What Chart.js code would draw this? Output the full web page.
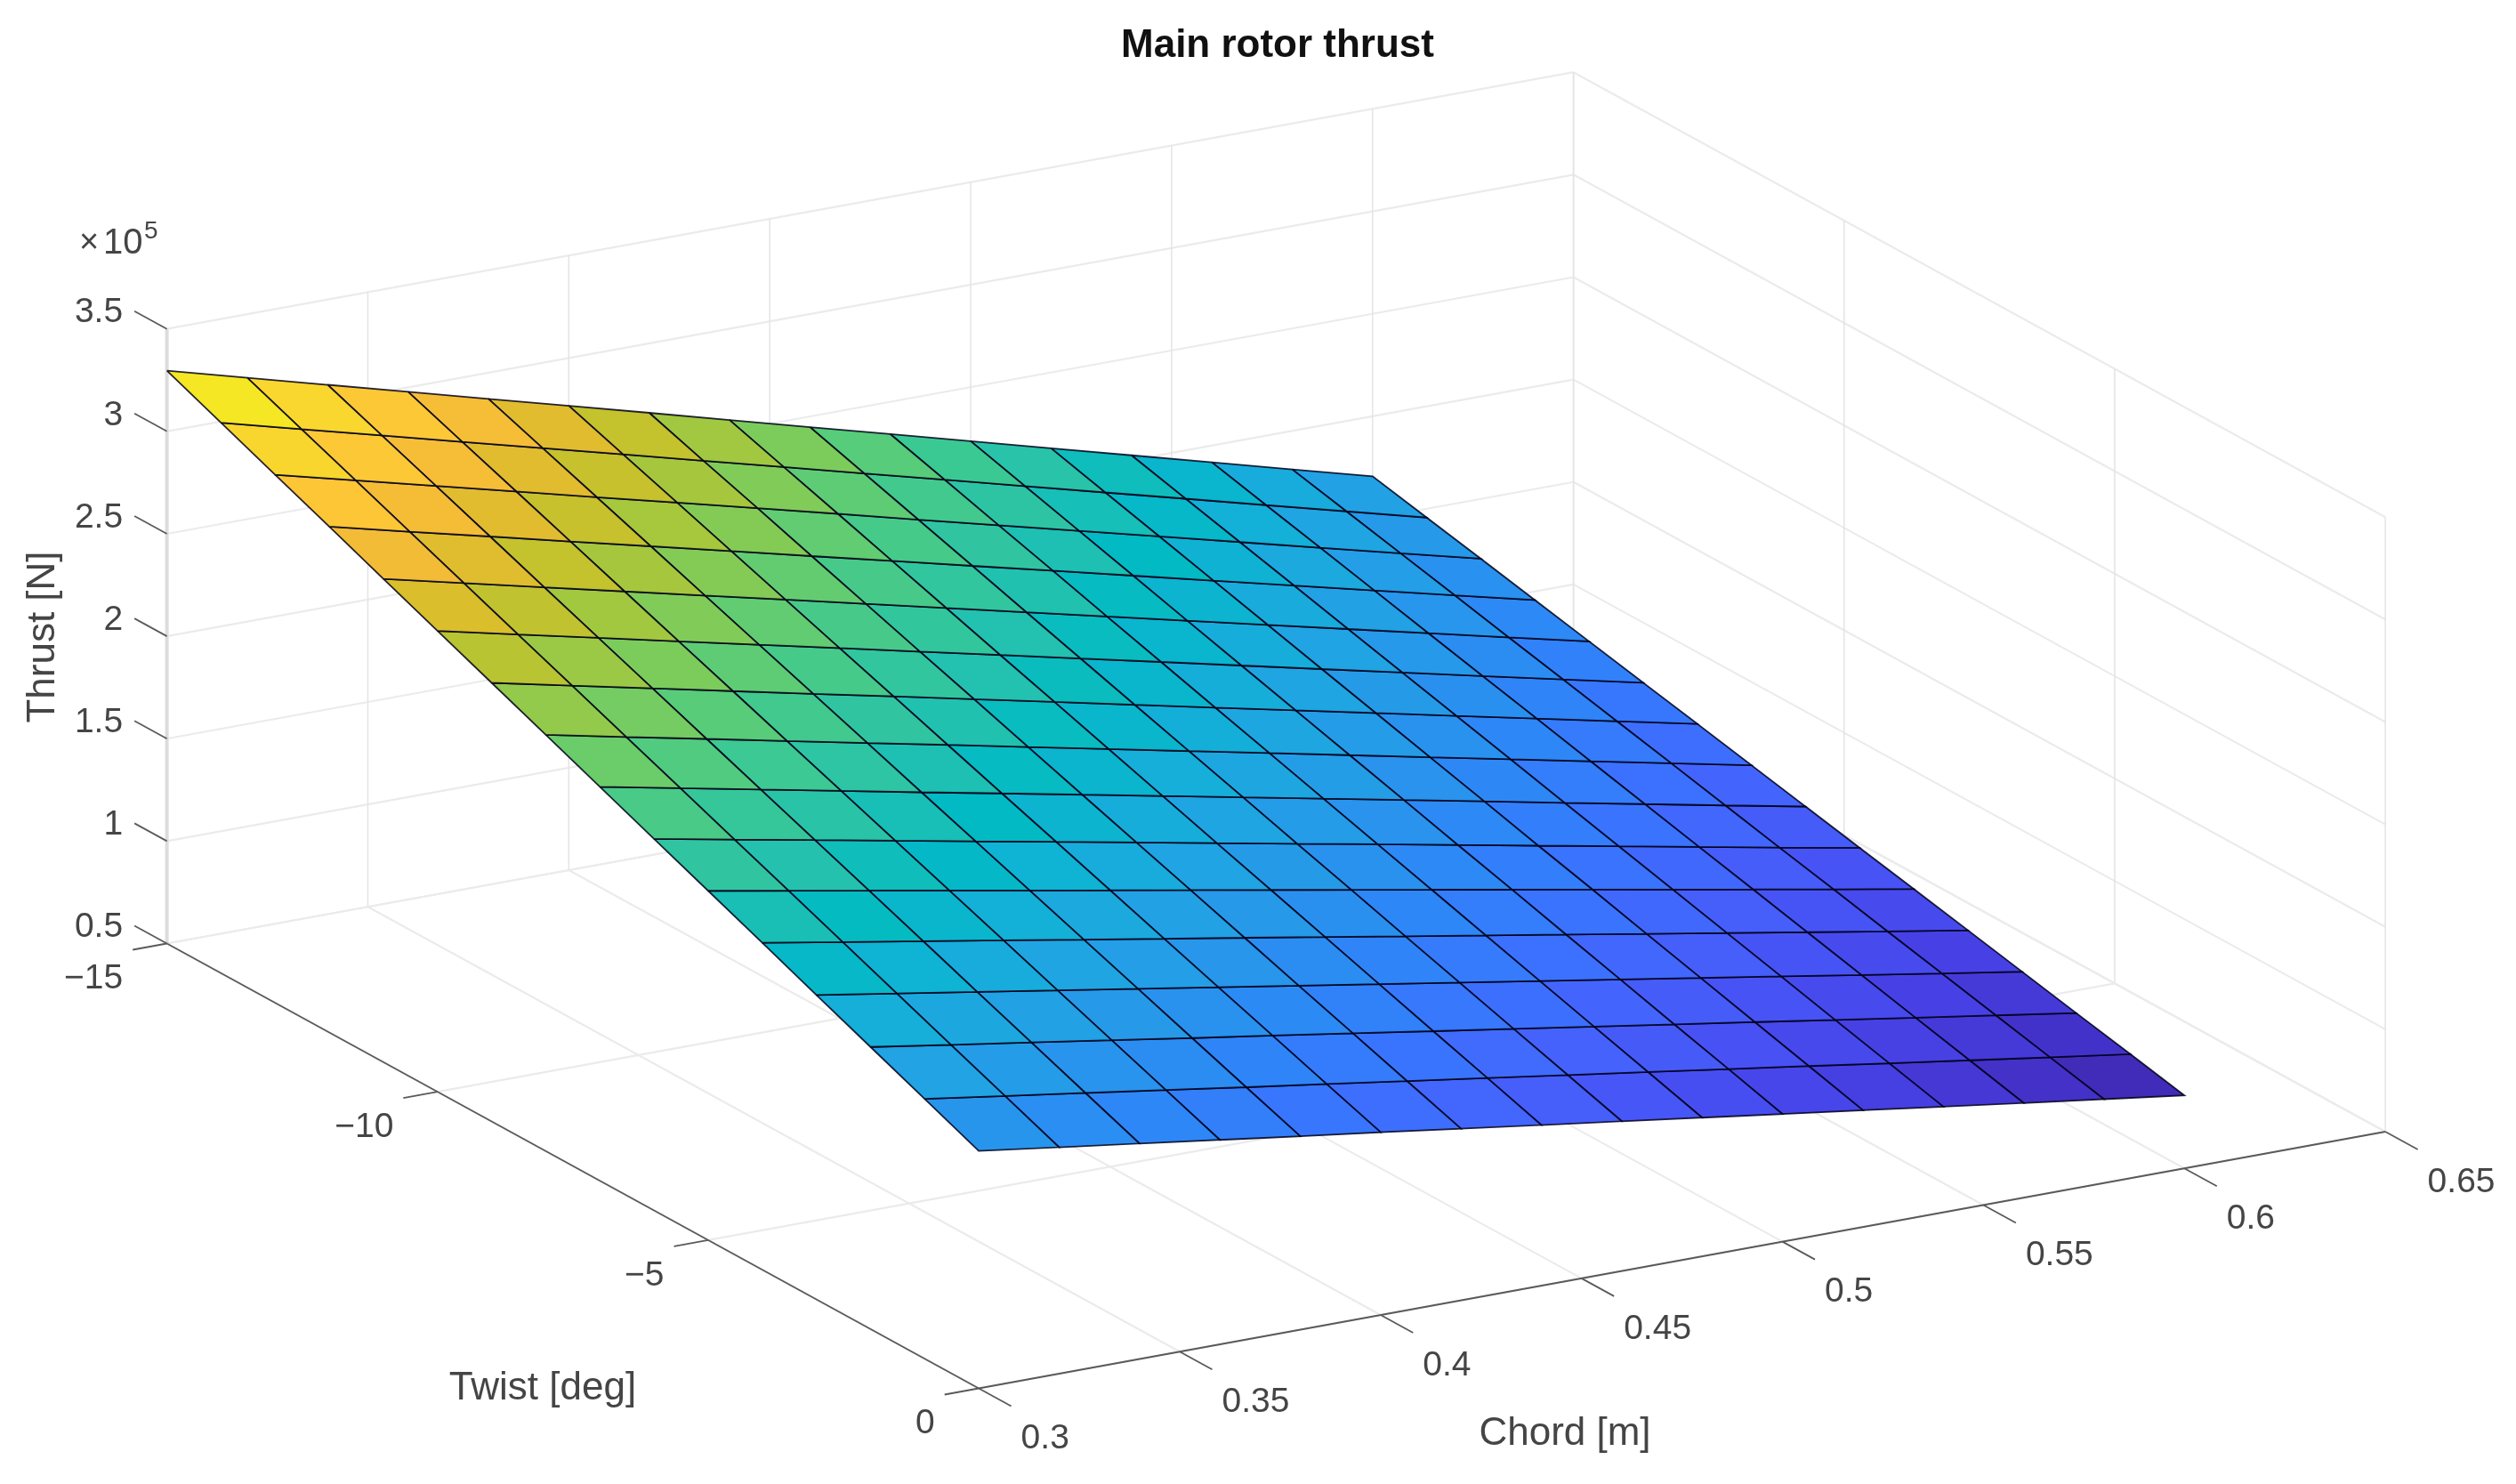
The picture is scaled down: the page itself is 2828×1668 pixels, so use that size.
<!DOCTYPE html>
<html>
<head>
<meta charset="utf-8">
<title>Main rotor thrust</title>
<script src="https://cdn.jsdelivr.net/npm/chart.js@4"></script>
<style>
  html, body { margin: 0; padding: 0; background: #fff; }
  canvas { display: block; }
</style>
</head>
<body>
<canvas id="chart" width="2828" height="1668"></canvas>
<script>
// chord [m] along the columns, twist [deg] along the rows
const chordValues = [0.30, 0.32, 0.34, 0.36, 0.38, 0.40, 0.42, 0.44, 0.46, 0.48, 0.50, 0.52, 0.54, 0.56, 0.58, 0.60];
const twistValues = [-15, -14, -13, -12, -11, -10, -9, -8, -7, -6, -5, -4, -3, -2, -1, 0];

// thrust, x 10^5 N
const thrustRows = [
  [3.296, 3.190, 3.084, 2.978, 2.872, 2.767, 2.661, 2.554, 2.448, 2.342, 2.236, 2.130, 2.024, 1.918, 1.812, 1.707],
  [3.187, 3.084, 2.982, 2.879, 2.777, 2.675, 2.572, 2.470, 2.367, 2.265, 2.162, 2.059, 1.957, 1.854, 1.752, 1.650],
  [3.078, 2.979, 2.880, 2.781, 2.682, 2.584, 2.485, 2.386, 2.286, 2.187, 2.088, 1.989, 1.890, 1.791, 1.692, 1.594],
  [2.969, 2.873, 2.778, 2.682, 2.587, 2.492, 2.396, 2.301, 2.205, 2.110, 2.014, 1.918, 1.823, 1.727, 1.632, 1.537],
  [2.859, 2.767, 2.675, 2.583, 2.491, 2.400, 2.308, 2.216, 2.123, 2.031, 1.939, 1.847, 1.755, 1.663, 1.571, 1.480],
  [2.750, 2.661, 2.573, 2.484, 2.396, 2.308, 2.219, 2.131, 2.042, 1.954, 1.865, 1.776, 1.688, 1.599, 1.511, 1.423],
  [2.641, 2.556, 2.471, 2.386, 2.301, 2.217, 2.132, 2.047, 1.961, 1.876, 1.791, 1.706, 1.621, 1.536, 1.451, 1.367],
  [2.532, 2.450, 2.369, 2.287, 2.206, 2.125, 2.043, 1.962, 1.880, 1.799, 1.717, 1.635, 1.554, 1.472, 1.391, 1.310],
  [2.423, 2.345, 2.267, 2.189, 2.110, 2.033, 1.955, 1.877, 1.799, 1.721, 1.643, 1.565, 1.486, 1.408, 1.330, 1.253],
  [2.314, 2.239, 2.165, 2.090, 2.015, 1.942, 1.867, 1.792, 1.717, 1.643, 1.568, 1.493, 1.419, 1.344, 1.269, 1.196],
  [2.205, 2.134, 2.063, 1.992, 1.920, 1.850, 1.779, 1.708, 1.637, 1.566, 1.495, 1.424, 1.352, 1.281, 1.210, 1.140],
  [2.096, 2.028, 1.961, 1.893, 1.825, 1.758, 1.691, 1.623, 1.555, 1.488, 1.420, 1.352, 1.285, 1.217, 1.149, 1.083],
  [1.986, 1.922, 1.858, 1.794, 1.730, 1.666, 1.602, 1.538, 1.474, 1.410, 1.346, 1.282, 1.218, 1.153, 1.089, 1.026],
  [1.877, 1.816, 1.756, 1.695, 1.634, 1.575, 1.514, 1.453, 1.393, 1.332, 1.271, 1.211, 1.150, 1.089, 1.029, 0.969],
  [1.768, 1.711, 1.654, 1.597, 1.539, 1.483, 1.426, 1.369, 1.312, 1.255, 1.198, 1.141, 1.083, 1.026, 0.969, 0.913],
  [1.659, 1.605, 1.552, 1.498, 1.444, 1.392, 1.338, 1.284, 1.231, 1.177, 1.123, 1.070, 1.016, 0.962, 0.909, 0.856]
];

// tick values and their labels
const chordTicks = [0.3, 0.35, 0.4, 0.45, 0.5, 0.55, 0.6, 0.65];
const chordTickLabels = ['0.3', '0.35', '0.4', '0.45', '0.5', '0.55', '0.6', '0.65'];
const twistTicks = [-15, -10, -5, 0];
const twistTickLabels = ['\u221215', '\u221210', '\u22125', '0'];
const thrustTicks = [0.5, 1, 1.5, 2, 2.5, 3, 3.5];
const thrustTickLabels = ['0.5', '1', '1.5', '2', '2.5', '3', '3.5'];

// parula colormap
const parula = [
  [0.2422, 0.1504, 0.6603], [0.2647, 0.1978, 0.7952], [0.2783, 0.2559, 0.8991], [0.2810, 0.3228, 0.9579],
  [0.2699, 0.3892, 0.9906], [0.2206, 0.4603, 0.9973], [0.1786, 0.5289, 0.9682], [0.1540, 0.5902, 0.9218],
  [0.1248, 0.6459, 0.8883], [0.0689, 0.6948, 0.8394], [0.0067, 0.7312, 0.7660], [0.1408, 0.7584, 0.6842],
  [0.2161, 0.7843, 0.5923], [0.3406, 0.8008, 0.4789], [0.5044, 0.7993, 0.3480], [0.6720, 0.7793, 0.2227],
  [0.8203, 0.7498, 0.1535], [0.9393, 0.7288, 0.2100], [0.9970, 0.7659, 0.2199], [0.9786, 0.8317, 0.1863],
  [0.9589, 0.9018, 0.1437], [0.9769, 0.9839, 0.0805]
];

const W = 2828, H = 1668;
const FONT = '"Liberation Sans", Arial, sans-serif';
const TEXT_COLOR = '#454545';

// orthographic view of the axes box, page pixels
const view = {
  ox: 187.6, oy: 1060.5,          // chord 0.3, twist -15, thrust 0.5
  chordX: 1581, chordY: -288.5,   // whole chord range
  twistX: 912.5, twistY: 500,     // whole twist range
  zY: -690.8                      // whole thrust range
};

function project(chord, twist, thrust) {
  const a = (chord - 0.3) / 0.35, b = (twist + 15) / 15, c = (thrust - 0.5) / 3;
  return {
    x: view.ox + a * view.chordX + b * view.twistX,
    y: view.oy + a * view.chordY + b * view.twistY + c * view.zY
  };
}

function facetColor(v) {
  const all = thrustRows.flat();
  const lo = Math.min(...all), hi = Math.max(...all);
  const t = (v - lo) / (hi - lo) * (parula.length - 1);
  const i = Math.min(Math.floor(t), parula.length - 2), f = t - i;
  const c = parula[i].map((p, k) => Math.round(255 * (p + (parula[i + 1][k] - p) * f)));
  return `rgb(${c[0]},${c[1]},${c[2]})`;
}

function lineSet(points, color, width) {
  return { data: points, borderColor: color, borderWidth: width, showLine: true, fill: false, pointRadius: 0, clip: false };
}

// first dataset ends up on top, so the surface goes in first
const datasets = [];

for (let i = 0; i < twistValues.length - 1; i++) {
  for (let j = 0; j < chordValues.length - 1; j++) {
    const corner = (r, c) => project(chordValues[c], twistValues[r], thrustRows[r][c]);
    const p = corner(i, j);
    datasets.push({
      data: [p, corner(i, j + 1), corner(i + 1, j + 1), corner(i + 1, j), p],
      showLine: true,
      fill: 'shape',
      backgroundColor: facetColor(thrustRows[i + 1][j]),
      borderColor: 'rgba(0,0,25,0.85)',
      borderWidth: 1.8,
      pointRadius: 0,
      clip: false
    });
  }
}

const tMin = twistTicks[0], tMax = twistTicks[twistTicks.length - 1];
const cMin = chordTicks[0], cMax = chordTicks[chordTicks.length - 1];
const zMin = thrustTicks[0], zMax = thrustTicks[thrustTicks.length - 1];

// dark axes with their ticks
const AXIS = '#5a5a5a';
datasets.push(lineSet([project(cMin, tMin, zMin), project(cMin, tMax, zMin)], AXIS, 1.8));
datasets.push(lineSet([project(cMin, tMax, zMin), project(cMax, tMax, zMin)], AXIS, 1.8));
chordTicks.forEach(c => datasets.push(lineSet([project(c, tMax, zMin), project(c, tMax + 0.6, zMin)], AXIS, 1.8)));
twistTicks.forEach(t => datasets.push(lineSet([project(cMin, t, zMin), project(cMin - 0.0085, t, zMin)], AXIS, 1.8)));
thrustTicks.forEach(z => datasets.push(lineSet([project(cMin, tMin, z), project(cMin, tMin - 0.6, z)], AXIS, 1.8)));
datasets.push(lineSet([project(cMin, tMin, zMin), project(cMin, tMin, zMax)], '#dcdcdc', 4));

// grid on the floor and the two back walls
const GRID = '#ebebeb', GRID_V = '#e4e4e4';
chordTicks.forEach(c => {
  datasets.push(lineSet([project(c, tMin, zMin), project(c, tMax, zMin)], GRID, 2.2));
  datasets.push(lineSet([project(c, tMin, zMin), project(c, tMin, zMax)], GRID_V, 1.5));
});
twistTicks.forEach(t => {
  datasets.push(lineSet([project(cMin, t, zMin), project(cMax, t, zMin)], GRID, 2.2));
  datasets.push(lineSet([project(cMax, t, zMin), project(cMax, t, zMax)], GRID_V, 1.5));
});
thrustTicks.forEach(z => {
  datasets.push(lineSet([project(cMin, tMin, z), project(cMax, tMin, z)], GRID, 2.2));
  datasets.push(lineSet([project(cMax, tMin, z), project(cMax, tMax, z)], GRID, 2.2));
});

const labelsPlugin = {
  id: 'labels3d',
  afterDraw(chart) {
    const { ctx, scales } = chart;
    const px = p => ({ x: scales.x.getPixelForValue(p.x), y: scales.y.getPixelForValue(p.y) });
    const put = (text, x, y, font, align, color) => {
      ctx.font = font;
      ctx.textAlign = align;
      ctx.textBaseline = 'middle';
      ctx.fillStyle = color || TEXT_COLOR;
      ctx.fillText(text, x, y);
    };
    ctx.save();
    const tickFont = `39px ${FONT}`, nameFont = `44px ${FONT}`;

    thrustTicks.forEach((z, k) => {
      const p = px(project(cMin, tMin - 0.6, z));
      put(thrustTickLabels[k], p.x - 13, p.y + 2, tickFont, 'right');
    });
    twistTicks.forEach((t, k) => {
      const p = px(project(cMin - 0.0085, t, zMin));
      put(twistTickLabels[k], p.x - 11, p.y + 33, tickFont, 'right');
    });
    chordTicks.forEach((c, k) => {
      const p = px(project(c, tMax + 0.6, zMin));
      put(chordTickLabels[k], p.x + 11, p.y + 37, tickFont, 'left');
    });

    put('Main rotor thrust', 1436, 52, `bold 44px ${FONT}`, 'center', '#111111');
    put('Twist [deg]', 610, 1561, nameFont, 'center');
    put('Chord [m]', 1759, 1612, nameFont, 'center');

    ctx.save();
    ctx.translate(49, 716);
    ctx.rotate(-Math.PI / 2);
    put('Thrust [N]', 0, 0, nameFont, 'center');
    ctx.restore();

    put('\u00d7', 100, 274, `38px ${FONT}`, 'center');
    put('10', 116, 274, `40px ${FONT}`, 'left');
    put('5', 162, 260, `28px ${FONT}`, 'left');
    ctx.restore();
  }
};

new Chart(document.getElementById('chart'), {
  type: 'scatter',
  data: { datasets },
  plugins: [labelsPlugin],
  options: {
    responsive: false,
    devicePixelRatio: 1,
    animation: false,
    layout: { padding: 0 },
    plugins: { legend: { display: false }, tooltip: { enabled: false } },
    elements: { line: { tension: 0 } },
    scales: {
      x: { type: 'linear', display: false, min: 0, max: W },
      y: { type: 'linear', display: false, min: 0, max: H, reverse: true }
    }
  }
});
</script>
</body>
</html>
